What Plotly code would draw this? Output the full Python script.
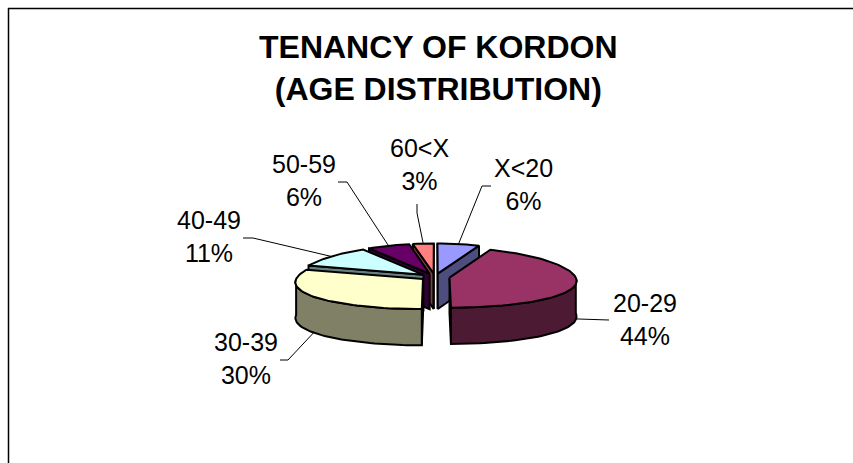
"""Exploded 3-D style pie of tenant ages, drawn as projected polygons because
Plotly has no 3-D pie trace."""

import math

import plotly.graph_objects as go

AGE_GROUPS = ["X<20", "20-29", "30-39", "40-49", "50-59", "60<X"]
PERCENTS = [6, 44, 30, 11, 6, 3]
TOP_COLORS = ["#9999FF", "#993366", "#FFFFCC", "#CCFFFF", "#660066", "#FF8080"]
WALL_COLORS = ["#4D4D80", "#4D1A33", "#808066", "#668080", "#330033", "#804040"]
TITLE_LINES = ["TENANCY OF KORDON", "(AGE DISTRIBUTION)"]

FONT = "Liberation Sans, Arial, sans-serif"
WIDTH, HEIGHT = 853, 463

# pie placement, all in page pixels
CX, CY = 435, 277
RX, RY = 126, 30
DEPTH = 35.5
EXPLODE = 0.117     # slice offset as a fraction of the radius
PERSPECTIVE = 0.10  # the back of the pie is drawn slightly smaller

# label centre, then the elbow of its leader line
LABEL_POS = {
    "X<20": (523, 184),
    "20-29": (645, 319),
    "30-39": (246, 358),
    "40-49": (209, 236),
    "50-59": (304, 180),
    "60<X": (419, 164),
}
ELBOWS = {
    "X<20": [(482, 186), (491, 186)],
    "20-29": [(600, 320), (609, 320)],
    "30-39": [(288, 360), (280, 360)],
    "40-49": [(253, 238), (243, 238)],
    "50-59": [(347, 182), (338, 182)],
    "60<X": [(417, 213), (417, 204)],
}


def project(east, north, drop=0.0):
    k = 1 - PERSPECTIVE * north
    return CX + east * RX * k, CY - north * RY + drop * (1 - 0.02 * north)


def rim(theta, ox, oy, drop=0.0):
    return project(ox + math.sin(theta), oy + math.cos(theta), drop)


def arc_angles(a0, a1, step=math.radians(2)):
    n = max(1, int(abs(a1 - a0) / step))
    return [a0 + (a1 - a0) * i / n for i in range(n + 1)]


def signed_area(pts):
    total = 0.0
    for (x0, y0), (x1, y1) in zip(pts, pts[1:] + pts[:1]):
        total += x0 * y1 - x1 * y0
    return total


def polygon(pts, color):
    xs = [p[0] for p in pts] + [pts[0][0]]
    ys = [p[1] for p in pts] + [pts[0][1]]
    return go.Scatter(
        x=xs,
        y=ys,
        mode="lines",
        fill="toself",
        fillcolor=color,
        line={"color": "#000000", "width": 2},
        hoverinfo="skip",
        showlegend=False,
    )


slices = []
running = 0.0
total = sum(PERCENTS)
for name, pct, top, wall in zip(AGE_GROUPS, PERCENTS, TOP_COLORS, WALL_COLORS):
    a0 = running / total * 2 * math.pi
    running += pct
    a1 = running / total * 2 * math.pi
    slices.append({"name": name, "a0": a0, "a1": a1, "mid": (a0 + a1) / 2, "top": top, "wall": wall})

fig = go.Figure()

# painter's order: back slices first
for s in sorted(slices, key=lambda item: -math.cos(item["mid"])):
    ox = EXPLODE * math.sin(s["mid"])
    oy = EXPLODE * math.cos(s["mid"])
    apex_top = project(ox, oy)
    apex_bottom = project(ox, oy, DEPTH)

    for angle, is_start in ((s["a0"], True), (s["a1"], False)):
        quad = [apex_top, rim(angle, ox, oy), rim(angle, ox, oy, DEPTH), apex_bottom]
        area = signed_area(quad)
        if (area < 0) == is_start:
            fig.add_trace(polygon(quad, s["wall"]))

    # only the part of the rim that faces the viewer
    lo = max(s["a0"], math.pi / 2)
    hi = min(s["a1"], 3 * math.pi / 2)
    if hi > lo:
        angles = arc_angles(lo, hi)
        upper = [rim(a, ox, oy) for a in angles]
        lower = [rim(a, ox, oy, DEPTH) for a in reversed(angles)]
        fig.add_trace(polygon(upper + lower, s["wall"]))

    top_pts = [apex_top] + [rim(a, ox, oy) for a in arc_angles(s["a0"], s["a1"])]
    fig.add_trace(polygon(top_pts, s["top"]))

    # leader from the rim out to the label; front slices hang it off the wall's lower edge
    facing_front = math.cos(s["mid"]) < 0
    start = rim(s["mid"], ox, oy, DEPTH if facing_front else 0.0)
    path = [start] + ELBOWS[s["name"]]
    fig.add_trace(
        go.Scatter(
            x=[p[0] for p in path],
            y=[p[1] for p in path],
            mode="lines",
            line={"color": "#000000", "width": 1},
            hoverinfo="skip",
            showlegend=False,
        )
    )

annotations = [
    {
        "text": "<br>".join(TITLE_LINES),
        "x": 438.5,
        "y": 68,
        "xref": "x",
        "yref": "y",
        "showarrow": False,
        "font": {"family": FONT, "size": 32, "color": "#000000", "weight": "bold"},
    }
]
for s, pct in zip(slices, PERCENTS):
    lx, ly = LABEL_POS[s["name"]]
    annotations.append(
        {
            "text": f"{s['name'].replace('<', '&lt;')}<br>{pct}%",
            "x": lx,
            "y": ly,
            "xref": "x",
            "yref": "y",
            "showarrow": False,
            "font": {"family": FONT, "size": 25, "color": "#000000"},
        }
    )

fig.update_layout(
    width=WIDTH,
    height=HEIGHT,
    autosize=False,
    margin={"l": 0, "r": 0, "t": 0, "b": 0},
    paper_bgcolor="#ffffff",
    plot_bgcolor="#ffffff",
    xaxis={"visible": False, "range": [0, WIDTH], "fixedrange": True},
    yaxis={"visible": False, "range": [HEIGHT, 0], "fixedrange": True},
    annotations=annotations,
    shapes=[
        {"type": "line", "x0": 8, "y0": 8.5, "x1": WIDTH, "y1": 8.5, "line": {"color": "#000000", "width": 1.5}},
        {"type": "line", "x0": 8.5, "y0": 8, "x1": 8.5, "y1": HEIGHT, "line": {"color": "#000000", "width": 1.5}},
    ],
)

# the page's default body margin would push the whole figure 8px in
fig.write_html(
    "out.html",
    config={"displayModeBar": False},
    post_script="document.body.style.margin = '0'; document.body.style.overflow = 'hidden';",
)
